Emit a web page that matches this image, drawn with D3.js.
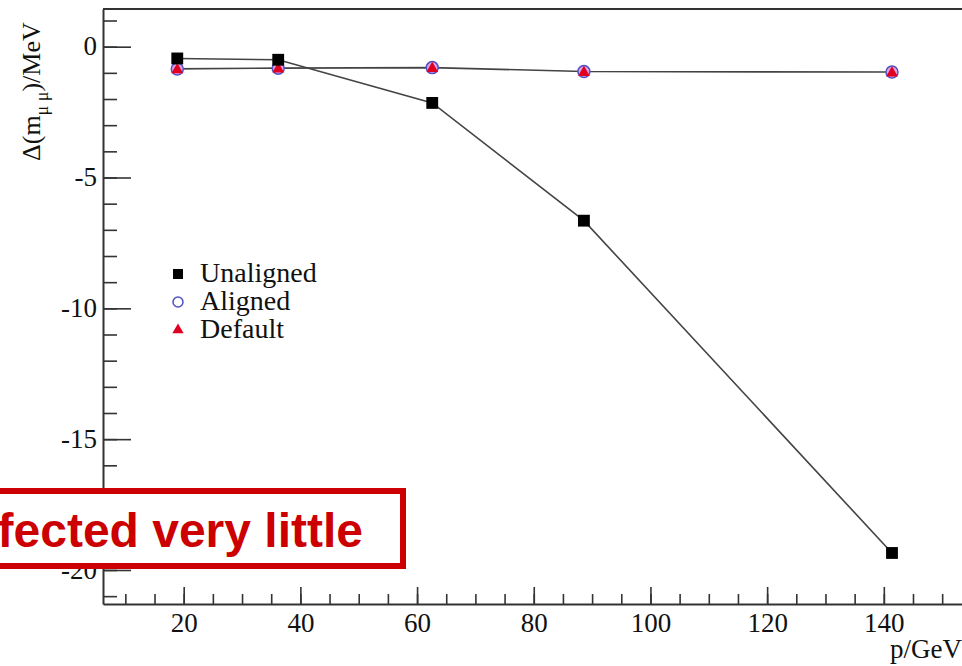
<!DOCTYPE html>
<html>
<head>
<meta charset="utf-8">
<script src="https://cdn.jsdelivr.net/npm/d3@7"></script>
<style>
  body { margin: 0; background: #fff; }
  svg { display: block; }
</style>
</head>
<body>
<div id="chart"></div>
<script>
// momentum values and mass shifts
const momentum = [18.9, 36.2, 62.6, 88.6, 141.4];
const unaligned = [-0.45, -0.5, -2.15, -6.65, -19.35];
const aligned = [-0.85, -0.82, -0.8, -0.95, -0.97];
const defaults = [-0.85, -0.82, -0.8, -0.95, -0.97];

const xMajor = [20, 40, 60, 80, 100, 120, 140];
const xMinor = d3.range(10, 155, 5);
const yMajor = [0, -5, -10, -15, -20];
const yMinor = d3.range(1, -22, -1);

const legendNames = ["Unaligned", "Aligned", "Default"];

const W = 962, H = 666;
const margin = {top: 9, right: 0, bottom: 62, left: 103};
const width = W - margin.left - margin.right,
      height = H - margin.top - margin.bottom;

const svg = d3.select("#chart").append("svg")
  .attr("width", W).attr("height", H);

const g = svg.append("g")
  .attr("transform", `translate(${margin.left},${margin.top})`);

const x = d3.scaleLinear().domain([6.17, 153.4]).range([0, width]);
const y = d3.scaleLinear().domain([-21.3, 1.44]).range([height, 0]);

const serif = "'Liberation Serif', 'Times New Roman', serif";

// minor ticks first
g.append("g")
  .attr("transform", `translate(0,${height})`)
  .call(d3.axisBottom(x).tickValues(xMinor).tickSize(-10).tickFormat(""))
  .call(a => a.select(".domain").remove());
g.append("g")
  .call(d3.axisLeft(y).tickValues(yMinor).tickSize(-14).tickFormat(""))
  .call(a => a.select(".domain").remove());

// major x axis
g.append("g")
  .attr("transform", `translate(0,${height})`)
  .call(d3.axisBottom(x).tickValues(xMajor).tickSize(-17).tickPadding(9).tickSizeOuter(0))
  .attr("font-family", serif).attr("font-size", 27)
  .call(a => a.selectAll("text").attr("fill", "#111"));

// major y axis
g.append("g")
  .call(d3.axisLeft(y).tickValues(yMajor).tickSize(-28).tickPadding(6).tickSizeOuter(0)
    .tickFormat(d => d === 0 ? "0" : "-" + Math.abs(d)))
  .attr("font-family", serif).attr("font-size", 27)
  .call(a => a.selectAll("text").attr("fill", "#111").attr("dy", "0.3em"));

g.selectAll(".tick line").attr("stroke", "#333").attr("stroke-width", 1.6);
g.selectAll(".domain").attr("stroke", "#333").attr("stroke-width", 2);

// top frame line
g.append("line")
  .attr("x1", 0).attr("x2", width).attr("y1", 0).attr("y2", 0)
  .attr("stroke", "#333").attr("stroke-width", 2);

// connecting lines
const line = d3.line().x((d, i) => x(momentum[i])).y(d => y(d));
g.append("path").datum(aligned)
  .attr("fill", "none").attr("stroke", "#444").attr("stroke-width", 1.6)
  .attr("d", line);
g.append("path").datum(unaligned)
  .attr("fill", "none").attr("stroke", "#444").attr("stroke-width", 1.6)
  .attr("d", line);

// markers
const sq = d3.symbol().type(d3.symbolSquare).size(140);
const tri = d3.symbol().type(d3.symbolTriangle).size(60);

g.selectAll(".alg").data(aligned).join("circle")
  .attr("cx", (d, i) => x(momentum[i])).attr("cy", d => y(d))
  .attr("r", 6).attr("fill", "#e0a0e0").attr("stroke", "#5050c8").attr("stroke-width", 1.5);
g.selectAll(".def").data(defaults).join("path")
  .attr("transform", (d, i) => `translate(${x(momentum[i])},${y(d) + 1})`)
  .attr("d", tri).attr("fill", "#e00020");
g.selectAll(".una").data(unaligned).join("path")
  .attr("transform", (d, i) => `translate(${x(momentum[i])},${y(d)})`)
  .attr("d", sq).attr("fill", "#000");

// legend
const legend = svg.append("g").attr("transform", "translate(178,274)");
const legendY = [0, 28, 56];
legend.append("path").attr("transform", `translate(0,${legendY[0]})`)
  .attr("d", d3.symbol().type(d3.symbolSquare).size(100)).attr("fill", "#000");
legend.append("circle").attr("cx", 0).attr("cy", legendY[1]).attr("r", 5)
  .attr("fill", "none").attr("stroke", "#5050c8").attr("stroke-width", 1.5);
legend.append("path").attr("transform", `translate(0,${legendY[2]})`)
  .attr("d", d3.symbol().type(d3.symbolTriangle).size(55)).attr("fill", "#e00020");
legend.selectAll("text").data(legendNames).join("text")
  .attr("x", 22).attr("y", (d, i) => legendY[i] + 8)
  .attr("font-family", serif).attr("font-size", 28).attr("fill", "#111")
  .text(d => d);

// axis titles
const yt = svg.append("text")
  .attr("transform", "translate(40,161) rotate(-90)")
  .attr("font-family", serif).attr("font-size", 26).attr("fill", "#111");
yt.append("tspan").text("Δ(m");
yt.append("tspan").attr("font-size", 18).attr("dy", 8).text("μ μ");
yt.append("tspan").attr("dy", -8).text(")/MeV");

svg.append("text")
  .attr("x", 962).attr("y", 658).attr("text-anchor", "end")
  .attr("font-family", serif).attr("font-size", 27).attr("fill", "#111")
  .text("p/GeV");

// red callout box
svg.append("rect")
  .attr("x", -10).attr("y", 491).attr("width", 413).attr("height", 75)
  .attr("fill", "#fff").attr("stroke", "#cc0000").attr("stroke-width", 6);
svg.append("text")
  .attr("x", 363).attr("y", 547).attr("text-anchor", "end")
  .attr("font-family", "'Liberation Sans', Arial, sans-serif").attr("font-weight", "bold")
  .attr("font-size", 48).attr("fill", "#cc0000")
  .text("fected very little");
</script>
</body>
</html>
